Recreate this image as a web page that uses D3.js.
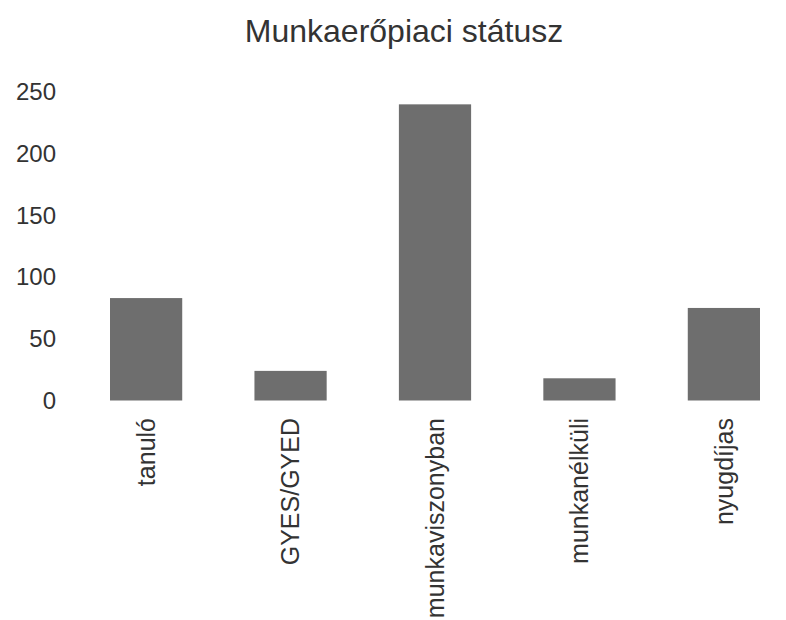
<!DOCTYPE html>
<html>
<head>
<meta charset="utf-8">
<script src="https://cdn.jsdelivr.net/npm/d3@7"></script>
<style>
  html, body { margin: 0; padding: 0; background: #ffffff; }
  svg { display: block; }
</style>
</head>
<body>
<svg id="chart" width="786" height="620"></svg>
<script>
const title = "Munkaerőpiaci státusz";
const categories = ["tanuló", "GYES/GYED", "munkaviszonyban", "munkanélküli", "nyugdíjas"];
const values = [83, 24, 240, 18, 75];
const yTicks = [0, 50, 100, 150, 200, 250];

const svg = d3.select("#chart");
const font = "'Liberation Sans', Arial, sans-serif";

const x = d3.scaleBand()
  .domain(categories)
  .range([110, 760])
  .paddingInner(0.5)
  .paddingOuter(0);

const y = d3.scaleLinear()
  .domain([0, 250])
  .range([400.5, 92]);

// Title
svg.append("text")
  .attr("x", 404)
  .attr("y", 42)
  .attr("text-anchor", "middle")
  .attr("font-family", font)
  .attr("font-size", 32)
  .attr("fill", "#333333")
  .text(title);

// Bars
svg.append("g")
  .selectAll("rect")
  .data(categories)
  .join("rect")
  .attr("x", d => x(d))
  .attr("width", x.bandwidth())
  .attr("y", (d, i) => y(values[i]))
  .attr("height", (d, i) => y(0) - y(values[i]))
  .attr("fill", "#6e6e6e");

// Y axis
const yAxis = svg.append("g")
  .attr("transform", "translate(56,0)")
  .call(d3.axisLeft(y).tickValues(yTicks).tickSize(0).tickPadding(0).tickFormat(d3.format("d")));
yAxis.select(".domain").remove();
yAxis.selectAll("text")
  .attr("font-family", font)
  .attr("font-size", 24)
  .attr("fill", "#333333");

// X axis
const xAxis = svg.append("g")
  .attr("transform", "translate(0,418)")
  .call(d3.axisBottom(x).tickSize(0).tickPadding(0));
xAxis.select(".domain").remove();
xAxis.selectAll("text")
  .attr("font-family", font)
  .attr("font-size", 25)
  .attr("fill", "#333333")
  .attr("text-anchor", "end")
  .attr("dy", "0.35em")
  .attr("y", 0)
  .attr("x", 0)
  .attr("transform", "rotate(-90)");
</script>
</body>
</html>
